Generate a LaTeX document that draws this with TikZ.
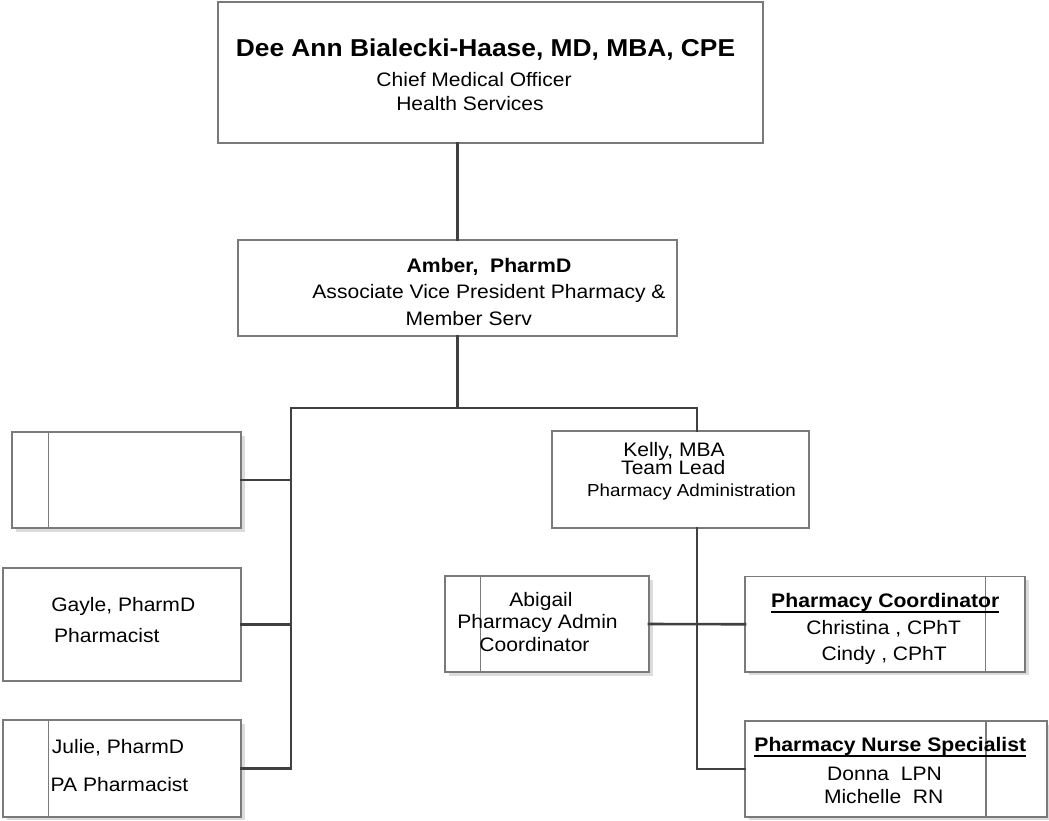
\documentclass[tikz,border=0pt]{standalone}
\usepackage{fontspec}
\setmainfont{Liberation Sans}[FakeStretch=1.08]
\definecolor{boxgray}{HTML}{7A7A7A}
\definecolor{conngray}{HTML}{404040}
\definecolor{shade}{HTML}{DCDCDC}
\begin{document}
\begin{tikzpicture}[x=1pt,y=-1pt,
  box/.style={draw=boxgray, line width=1.2pt, fill=white, inner sep=0pt, outer sep=0pt, anchor=north west},
  shadowbox/.style={fill=shade, draw=none},
  conn/.style={draw=conngray, line width=2.6pt, line cap=rect},
  innerline/.style={draw=boxgray, line width=1.1pt},
  txt/.style={inner sep=0pt, outer sep=0pt, anchor=base, font=\fontsize{19.5}{24}\selectfont},
  btxt/.style={txt, font=\fontsize{19.6}{24}\selectfont\bfseries},
  uline/.style={draw=black, line width=1.8pt}
]
\useasboundingbox (0,0) rectangle (1049,820);
\fill[white] (0,0) rectangle (1049,820);

% shadows
\fill[shadowbox] (16,436) rectangle (245,532);
\fill[shadowbox] (7,724) rectangle (245,820);
\fill[shadowbox] (449,580) rectangle (653,676);
\fill[shadowbox] (749,580) rectangle (1029,675);
\fill[shadowbox] (749,725) rectangle (1049,820);

% boxes
\node[box, minimum width=545pt, minimum height=141pt] (top) at (218,2) {};
\node[box, minimum width=439pt, minimum height=96pt] (amber) at (238,240) {};
\node[box, minimum width=229pt, minimum height=96pt] (empty) at (12,432) {};
\node[box, minimum width=238pt, minimum height=113pt] (gayle) at (3,568) {};
\node[box, minimum width=238pt, minimum height=97pt] (julie) at (3,720) {};
\node[box, minimum width=257pt, minimum height=97pt] (kelly) at (552,431) {};
\node[box, minimum width=204pt, minimum height=96pt] (abigail) at (445,576) {};
\node[box, minimum width=280pt, minimum height=95.5pt] (pc) at (745,576.5) {};
\node[box, minimum width=302pt, minimum height=96pt] (nurse) at (745,721) {};

% inner divider lines
\draw[innerline] (48.7,432) -- (48.7,528);
\draw[innerline] (48.7,720) -- (48.7,817);
\draw[innerline] (480.7,576) -- (480.7,672);
\draw[innerline] (985.7,576.5) -- (985.7,672);
\draw[innerline] (986,721) -- (986,817);

% connectors
\coordinate (busL) at (291,408);
\coordinate (busR) at (697,408);
\draw[conn] (amber.north) -- (amber.north |- top.south);
\draw[conn] (amber.south) -- (amber.south |- busL);
\draw[conn] (busL) -- (busR) -- (busR |- kelly.north);
\draw[conn] (busL) |- (julie.east);
\draw[conn] (empty.east) -- (empty.east -| busL);
\draw[conn] (gayle.east) -- (gayle.east -| busL);
\draw[conn] (kelly.south -| busR) |- (nurse.west);
\draw[conn] (abigail.east) -- (pc.west);

% texts
\node[txt, font=\fontsize{24.4}{28}\selectfont\bfseries] (t1) at (485.5,56.7) {Dee Ann Bialecki-Haase, MD, MBA, CPE};
\node[txt] (t2) at (474,86) {Chief Medical Officer};
\node[txt] (t3) at (470,110.7) {Health Services};

\node[btxt] (a1) at (489,272) {Amber,\ \ PharmD};
\node[txt] (a2) at (489,298) {Associate Vice President Pharmacy \&};
\node[txt] (a3) at (468.7,325) {Member Serv};

\node[txt] (k1) at (674,456) {Kelly, MBA};
\node[txt] (k2) at (673.3,474) {Team Lead};
\node[txt, font=\fontsize{17.4}{21}\selectfont] (k3) at (691.5,496) {Pharmacy Administration};

\node[txt] (g1) at (123.3,611.7) {Gayle, PharmD};
\node[txt] (g2) at (106.8,642.3) {Pharmacist};

\node[txt] (j1) at (118,753.3) {Julie, PharmD};
\node[txt] (j2) at (119.5,791) {PA Pharmacist};

\node[txt] (ab1) at (541,606.7) {Abigail};
\node[txt] (ab2) at (537.5,628.3) {Pharmacy Admin};
\node[txt] (ab3) at (534.5,651) {Coordinator};

\node[btxt] (p1) at (885.3,607.3) {Pharmacy Coordinator};
\draw[uline] ([yshift=-4.3pt]p1.base west) -- ([yshift=-4.3pt]p1.base east);
\node[txt] (p2) at (883.7,634) {Christina , CPhT};
\node[txt] (p3) at (884.2,660) {Cindy , CPhT};

\node[btxt] (n1) at (890.3,751.7) {Pharmacy Nurse Specialist};
\draw[uline] ([yshift=-4.3pt]n1.base west) -- ([yshift=-4.3pt]n1.base east);
\node[txt] (n2) at (884.5,780) {Donna\ \ LPN};
\node[txt] (n3) at (883.7,803.3) {Michelle\ \ RN};
\end{tikzpicture}
\end{document}
